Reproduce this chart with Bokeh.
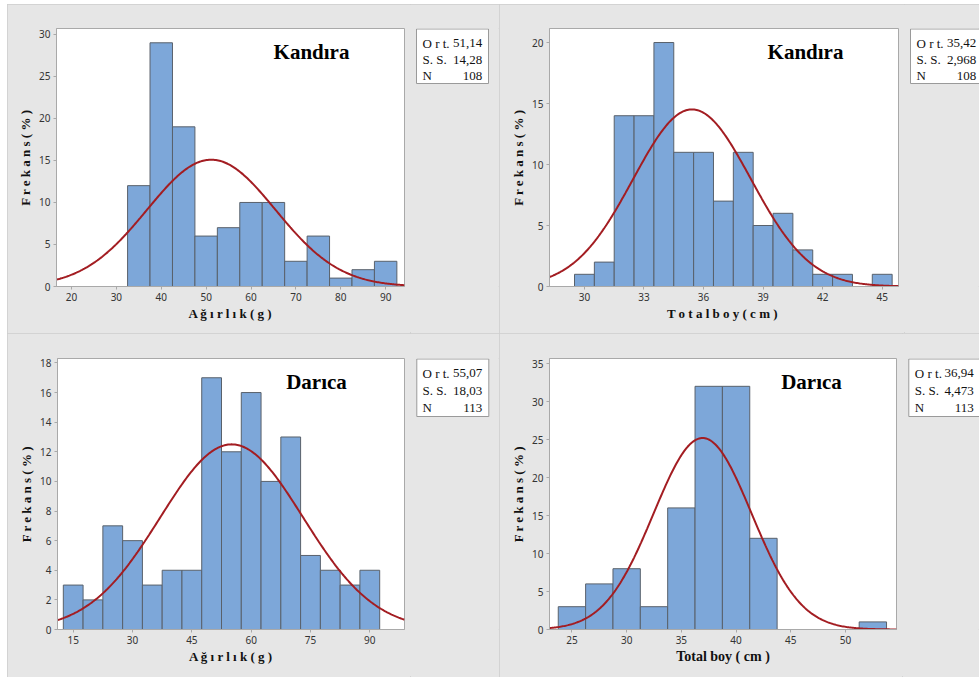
import numpy as np
from bokeh.plotting import figure
from bokeh.models import Label, FixedTicker, Range1d
from bokeh.layouts import row, column
from bokeh.core.properties import value
from bokeh.embed import file_html
from bokeh.resources import INLINE

# ---------------- data ----------------
# Kandıra - weight (g)
kw_bin_left = [32.5, 37.5, 42.5, 47.5, 52.5, 57.5, 62.5, 67.5, 72.5, 77.5, 82.5, 87.5]
kw_counts = [12, 29, 19, 6, 7, 10, 10, 3, 6, 1, 2, 3]
kw_bin_width = 5
kw_mean, kw_sd, kw_n = 51.14, 14.28, 108
kw_stat_text = ["51,14", "14,28", "108"]
kw_xticks = [20, 30, 40, 50, 60, 70, 80, 90]
kw_yticks = [0, 5, 10, 15, 20, 25, 30]

# Kandıra - total length (cm)
kl_bin_left = [29.5, 30.5, 31.5, 32.5, 33.5, 34.5, 35.5, 36.5, 37.5, 38.5, 39.5, 40.5, 41.5, 42.5, 43.5, 44.5]
kl_counts = [1, 2, 14, 14, 20, 11, 11, 7, 11, 5, 6, 3, 1, 1, 0, 1]
kl_bin_width = 1
kl_mean, kl_sd, kl_n = 35.42, 2.968, 108
kl_stat_text = ["35,42", "2,968", "108"]
kl_xticks = [30, 33, 36, 39, 42, 45]
kl_yticks = [0, 5, 10, 15, 20]

# Darıca - weight (g)
dw_bin_left = [12.5, 17.5, 22.5, 27.5, 32.5, 37.5, 42.5, 47.5, 52.5, 57.5, 62.5, 67.5, 72.5, 77.5, 82.5, 87.5]
dw_counts = [3, 2, 7, 6, 3, 4, 4, 17, 12, 16, 10, 13, 5, 4, 3, 4]
dw_bin_width = 5
dw_mean, dw_sd, dw_n = 55.07, 18.03, 113
dw_stat_text = ["55,07", "18,03", "113"]
dw_xticks = [15, 30, 45, 60, 75, 90]
dw_yticks = [0, 2, 4, 6, 8, 10, 12, 14, 16, 18]

# Darıca - total length (cm)
dl_bin_left = [23.75, 26.25, 28.75, 31.25, 33.75, 36.25, 38.75, 41.25, 51.25]
dl_counts = [3, 6, 8, 3, 16, 32, 32, 12, 1]
dl_bin_width = 2.5
dl_mean, dl_sd, dl_n = 36.94, 4.473, 113
dl_stat_text = ["36,94", "4,473", "113"]
dl_xticks = [25, 30, 35, 40, 45, 50]
dl_yticks = [0, 5, 10, 15, 20, 25, 30, 35]

stat_names = ["O r t.", "S. S.", "N"]
y_label = "F r e k a n s ( % )"

PANEL_BG = "#e6e6e6"
FRAME = "#a9a9a9"
BAR_FILL = "#7da7d9"
BAR_LINE = "#59616b"
CURVE = "#a31d22"
SERIF = "Liberation Serif"
SANS = "Noto Sans"


def make_main(bin_left, counts, bw, mean, sd, n, xticks, yticks, xr, yr, title,
              xlabel, xlabel_size, width, height, borders, title_pos):
    bl, br, bt, bb = borders
    p = figure(width=width, height=height, output_backend="svg", toolbar_location=None,
               title=None, x_range=Range1d(*xr), y_range=Range1d(*yr),
               min_border_left=bl, min_border_right=br, min_border_top=bt, min_border_bottom=bb)
    p.background_fill_color = "white"
    p.border_fill_color = PANEL_BG
    p.outline_line_color = FRAME
    p.outline_line_width = 1
    p.xgrid.visible = False
    p.ygrid.visible = False

    left = np.array(bin_left, dtype=float)
    p.quad(left=left, right=left + bw, bottom=0, top=counts,
           fill_color=BAR_FILL, line_color=BAR_LINE, line_width=1)

    xs = np.linspace(xr[0], xr[1], 300)
    ys = n * bw / (sd * np.sqrt(2 * np.pi)) * np.exp(-0.5 * ((xs - mean) / sd) ** 2)
    p.line(xs, ys, line_color=CURVE, line_width=2)

    for ax, ticks in ((p.xaxis[0], xticks), (p.yaxis[0], yticks)):
        ax.ticker = FixedTicker(ticks=ticks)
        ax.axis_line_color = FRAME
        ax.major_tick_line_color = FRAME
        ax.major_tick_out = 3
        ax.major_tick_in = 0
        ax.minor_tick_line_color = None
        ax.major_label_text_font = SANS
        ax.major_label_text_font_size = "10px"
        ax.major_label_text_color = "#333333"
        ax.major_label_standoff = 3
        ax.axis_label_text_font = SERIF
        ax.axis_label_text_font_style = "bold"
        ax.axis_label_text_color = "#111111"
        ax.axis_label_text_font_size = "13px"
    p.yaxis.axis_label = y_label
    p.yaxis.axis_label_standoff = 3
    p.xaxis.axis_label = xlabel
    p.xaxis.axis_label_text_font_size = xlabel_size
    p.xaxis.axis_label_standoff = 2

    p.add_layout(Label(x=title_pos[0], y=title_pos[1], x_units="screen", y_units="screen",
                       text=title, text_font=SERIF, text_font_style="bold",
                       text_font_size="21px", text_align="center",
                       text_baseline="alphabetic", text_color="black"))
    return p


def make_stats(stat_text, width, height, bt, bb, box, name_x, value_x, baselines):
    # data coordinates of this small figure = pixels from the panel's top-left corner
    s = figure(width=width, height=height, output_backend="svg", toolbar_location=None,
               title=None, x_range=Range1d(0, width), y_range=Range1d(height - bb, bt),
               x_axis_location=None, y_axis_location=None,
               min_border_left=0, min_border_right=0, min_border_top=bt, min_border_bottom=bb)
    s.background_fill_color = PANEL_BG
    s.border_fill_color = PANEL_BG
    s.outline_line_color = None
    s.xgrid.visible = False
    s.ygrid.visible = False
    s.quad(left=[box[0]], right=[box[1]], top=[box[2]], bottom=[box[3]],
           fill_color="white", line_color="#9a9a9a", line_width=1)
    s.text(x=[name_x] * 3, y=list(baselines), text=stat_names,
           text_font=value(SERIF), text_font_size="13px", text_align="left",
           text_baseline="alphabetic", text_color="#111111")
    s.text(x=[value_x] * 3, y=list(baselines), text=stat_text,
           text_font=value(SERIF), text_font_size="13px", text_align="right",
           text_baseline="alphabetic", text_color="#111111")
    return s


OUTLINE = {"outline": "1px solid #cdcdcd", "outline-offset": "-1px",
           "background-color": PANEL_BG}

m1 = make_main(kw_bin_left, kw_counts, kw_bin_width, kw_mean, kw_sd, kw_n,
               kw_xticks, kw_yticks, (16.66, 94.2), (0, 30.7), "Kandıra",
               "A ğ ı r l ı k ( g )", "13px", 403, 329, (49, 6, 24, 47), (255, 235))
s1 = make_stats(kw_stat_text, 89, 329, 24, 47, (6, 78, 24.5, 79), 12, 71.7, (38.7, 55, 71))

m2 = make_main(kl_bin_left, kl_counts, kl_bin_width, kl_mean, kl_sd, kl_n,
               kl_xticks, kl_yticks, (28.24, 45.82), (0, 21.15), "Kandıra",
               "T o t a l  b o y ( c m )", "13px", 405, 329, (50, 6, 24, 47), (256, 235))
s2 = make_stats(kl_stat_text, 75, 329, 24, 47, (6, 78, 24.5, 79), 12, 71.7, (38.7, 55, 71))

m3 = make_main(dw_bin_left, dw_counts, dw_bin_width, dw_mean, dw_sd, dw_n,
               dw_xticks, dw_yticks, (11.03, 98.77), (0, 18.3), "Darıca",
               "A ğ ı r l ı k ( g )", "13px", 403, 344, (50, 6, 25, 48), (259, 248))
s3 = make_stats(dw_stat_text, 89, 344, 25, 48, (6.3, 78.3, 25.5, 83), 12, 71.7, (39.7, 57, 74.3))

m4 = make_main(dl_bin_left, dl_counts, dl_bin_width, dl_mean, dl_sd, dl_n,
               dl_xticks, dl_yticks, (22.95, 54.66), (0, 35.66), "Darıca",
               "Total boy ( cm )", "14px", 403, 344, (50, 6, 25, 48), (262, 248))
s4 = make_stats(dl_stat_text, 77, 344, 25, 48, (6.3, 78.3, 25.5, 83), 12.3, 71.3, (39.7, 57, 74.3))

panel1 = row(m1, s1, spacing=0, styles=OUTLINE)
panel2 = row(m2, s2, spacing=0, styles=OUTLINE)
panel3 = row(m3, s3, spacing=0, styles=OUTLINE)
panel4 = row(m4, s4, spacing=0, styles=OUTLINE)

layout = column(row(panel1, panel2, spacing=0), row(panel3, panel4, spacing=0),
                spacing=0, margin=(4, 0, 0, 7))

open("out.html", "w").write(file_html(layout, INLINE))
